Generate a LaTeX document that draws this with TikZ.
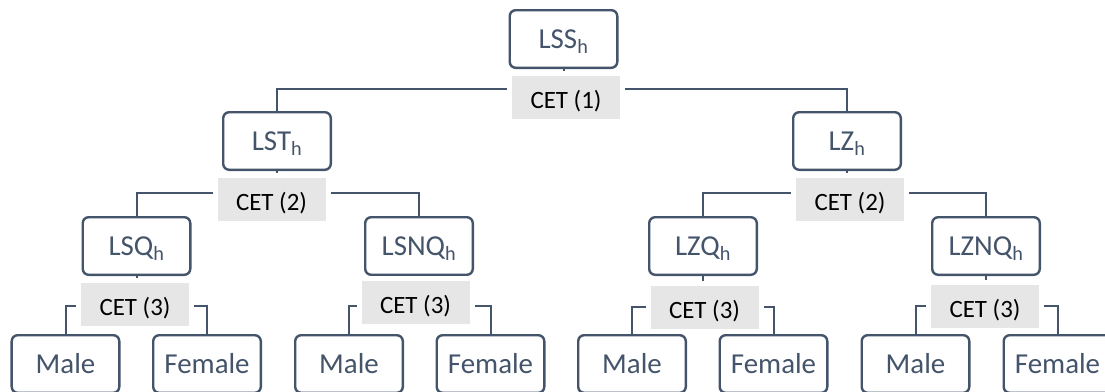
\documentclass[tikz,border=0pt]{standalone}
\usepackage{fontspec}
\setmainfont{Carlito}
\definecolor{slate}{HTML}{44546A}
\definecolor{cetgray}{HTML}{E7E6E6}
\begin{document}
\begin{tikzpicture}[x=1bp,y=-1bp,
  box/.style={draw=slate, line width=2.4bp, rounded corners=6bp, fill=white,
    minimum width=107.6bp, minimum height=57.6bp, inner sep=0pt, text=slate,
    font=\fontsize{29}{31}\selectfont, text height=18.7bp, text depth=0pt},
  cet/.style={fill=cetgray, draw=white, line width=5bp, minimum width=113bp,
    minimum height=48bp, inner sep=0pt, text=black,
    font=\fontsize{25}{27}\selectfont, text height=22bp, text depth=0pt},
  conn/.style={draw=slate, line width=2bp}]
\useasboundingbox (0,0) rectangle (1105,391);
\clip (0,0) rectangle (1105,391);
% level 0-2 boxes
\node[box] (LSS) at (563.5,39) {LSS\textsubscript{h}};
\node[box] (LST) at (277,141) {LST\textsubscript{h}};
\node[box] (LZ) at (847,141) {LZ\textsubscript{h}};
\node[box] (LSQ) at (136.5,246) {LSQ\textsubscript{h}};
\node[box] (LSNQ) at (419,246) {LSNQ\textsubscript{h}};
\node[box] (LZQ) at (703,246) {LZQ\textsubscript{h}};
\node[box] (LZNQ) at (986,246) {LZNQ\textsubscript{h}};
% leaves
\node[box] (m1) at (65.5,364) {Male};
\node[box] (f1) at (207,364) {Female};
\node[box] (m2) at (349,364) {Male};
\node[box] (f2) at (490.5,364) {Female};
\node[box] (m3) at (632,364) {Male};
\node[box] (f3) at (773.5,364) {Female};
\node[box] (m4) at (915.5,364) {Male};
\node[box] (f4) at (1057.5,364) {Female};
% junctions
\coordinate (j0) at (563.5,89);
\coordinate (j1) at (277,193);
\coordinate (j2) at (847,193);
\coordinate (j3) at (136.5,306);
\coordinate (j4) at (419,306);
\coordinate (j5) at (703,307);
\coordinate (j6) at (986,306);
% connectors
\draw[conn] (LSS.south) -- (j0) -| (LST.north);
\draw[conn] (j0) -| (LZ.north);
\draw[conn] (LST.south) -- (j1) -| (LSQ.north);
\draw[conn] (j1) -| (LSNQ.north);
\draw[conn] (LZ.south) -- (j2) -| (LZQ.north);
\draw[conn] (j2) -| (LZNQ.north);
\draw[conn] (LSQ.south) -- (j3) -| (m1.north);
\draw[conn] (j3) -| (f1.north);
\draw[conn] (LSNQ.south) -- (j4) -| (m2.north);
\draw[conn] (j4) -| (f2.north);
\draw[conn] (LZQ.south) -- (j5) -| (m3.north);
\draw[conn] (j5) -| (f3.north);
\draw[conn] (LZNQ.south) -- (j6) -| (m4.north);
\draw[conn] (j6) -| (f4.north);
% CET labels
\node[cet] (c1) at (566,97.5) {CET (1)};
\node[cet] (c2a) at (271.5,199) {CET (2)};
\node[cet] (c2b) at (850,199) {CET (2)};
\node[cet] (c3a) at (135,304.5) {CET (3)};
\node[cet] (c3b) at (415.5,302.5) {CET (3)};
\node[cet] (c3c) at (704.5,307.5) {CET (3)};
\node[cet] (c3d) at (985,306) {CET (3)};
\end{tikzpicture}
\end{document}
